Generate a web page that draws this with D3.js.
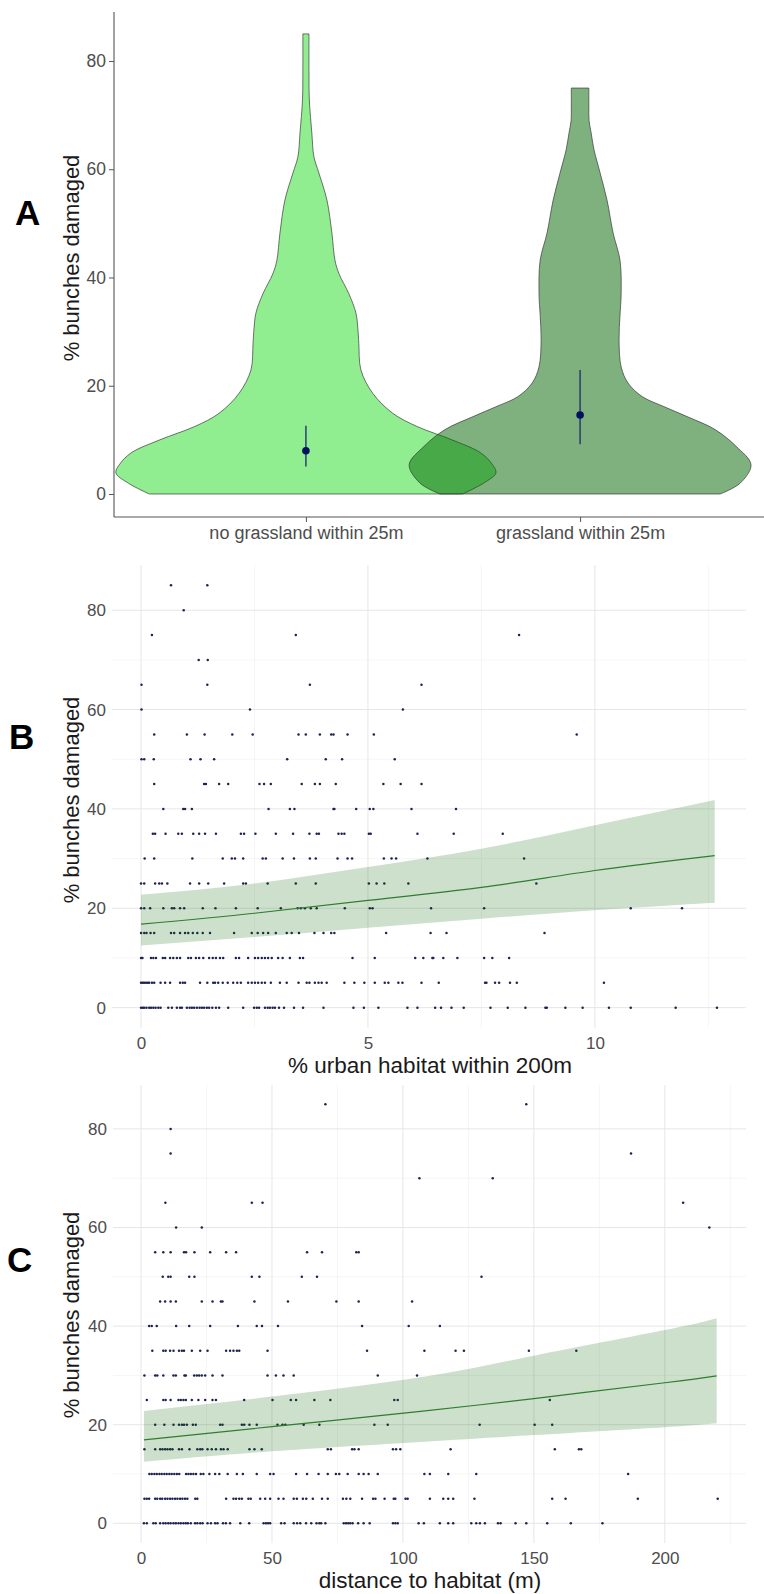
<!DOCTYPE html>
<html><head><meta charset="utf-8">
<script src="https://cdn.jsdelivr.net/npm/d3@7"></script>
<style>html,body{margin:0;padding:0;background:#fff}svg{display:block}</style>
</head><body>
<script>
// ---------- Panel A data ----------
const violinCategories = ["no grassland within 25m", "grassland within 25m"];
const violin1Values  = [0, 2, 3.9, 5.5, 7.6, 10, 12.5, 14.9, 18.6, 22.9, 27.8, 30.5, 33.4, 37, 40.7, 43.2, 48.2, 54.3, 59.3, 62.3, 66.7, 72.8, 78, 85];
const violin1Density = [0.82, 0.93, 0.995, 0.975, 0.915, 0.765, 0.58, 0.455, 0.35, 0.288, 0.277, 0.272, 0.262, 0.225, 0.173, 0.152, 0.136, 0.11, 0.068, 0.042, 0.031, 0.018, 0.016, 0.016];
const violin2Values  = [0, 2, 5.4, 8.8, 11.9, 14.3, 16.2, 18, 20.5, 23.5, 28.4, 33, 37, 43.2, 48.2, 54.3, 59.3, 63.6, 66.7, 69, 71.5, 75];
const violin2Density = [0.733, 0.838, 0.895, 0.817, 0.707, 0.56, 0.435, 0.325, 0.251, 0.215, 0.204, 0.209, 0.215, 0.209, 0.173, 0.141, 0.105, 0.073, 0.058, 0.047, 0.046, 0.046];
const meanValues = [8.0, 14.6];
const ciLow  = [5.1, 9.2];
const ciHigh = [12.6, 22.9];
const yTicksA = [0, 20, 40, 60, 80];

// ---------- Panel B data ----------
const damageLevels = [85, 80, 75, 70, 65, 60, 55, 50, 45, 40, 35, 30, 25, 20, 15, 10, 5, 0];
const urbanRows = [
 [0.66, 1.46],
 [0.94],
 [0.24, 3.41, 8.33],
 [1.27, 1.47],
 [0.01, 1.46, 3.72, 6.18],
 [0.01, 2.4, 5.77],
 [0.29, 1.01, 1.4, 2.01, 2.46, 3.47, 3.63, 3.94, 4.19, 4.24, 4.55, 5.13, 9.6],
 [0.01, 0.07, 0.28, 1.09, 1.31, 1.61, 3.22, 4.07, 4.43, 5.59],
 [0.29, 1.39, 1.43, 1.72, 1.92, 2.61, 2.71, 2.86, 3.54, 3.83, 3.94, 4.29, 5.34, 5.72, 6.18],
 [0.49, 0.93, 0.97, 1.12, 2.81, 3.28, 3.38, 4.24, 4.26, 4.74, 5.04, 5.12, 5.96, 6.94],
 [0.26, 0.31, 0.54, 0.82, 0.9, 1.15, 1.28, 1.41, 1.65, 2.2, 2.27, 2.52, 2.97, 3.35, 3.71, 3.87, 3.92, 4.35, 4.42, 4.48, 5.02, 5.06, 6.09, 6.89, 7.97],
 [0.08, 0.29, 1.13, 1.8, 2.0, 2.07, 2.25, 2.68, 2.75, 3.12, 3.37, 3.72, 3.85, 4.33, 4.55, 4.65, 5.35, 5.52, 5.62, 6.31, 8.44],
 [0.0, 0.07, 0.31, 0.4, 0.46, 0.58, 1.08, 1.28, 1.48, 1.83, 2.25, 2.31, 2.79, 3.41, 3.85, 5.02, 5.19, 5.36, 5.89, 8.71],
 [0.0, 0.07, 0.2, 0.49, 0.68, 0.73, 0.86, 0.95, 1.36, 1.64, 2.09, 2.57, 3.08, 3.45, 3.52, 3.61, 3.74, 3.87, 4.49, 5.04, 5.1, 6.39, 7.56, 10.79, 11.92],
 [0.0, 0.07, 0.12, 0.21, 0.29, 0.66, 0.73, 0.86, 0.97, 1.04, 1.14, 1.24, 1.36, 1.52, 2.05, 2.44, 2.57, 2.69, 2.8, 2.97, 3.21, 3.32, 3.48, 3.82, 4.02, 4.19, 4.26, 5.4, 6.38, 6.73, 8.89],
 [0.0, 0.03, 0.22, 0.27, 0.33, 0.48, 0.53, 0.64, 0.71, 0.79, 0.86, 1.04, 1.1, 1.21, 1.28, 1.37, 1.5, 1.58, 1.65, 1.74, 1.81, 2.09, 2.16, 2.36, 2.51, 2.58, 2.66, 2.73, 2.8, 2.88, 3.02, 3.12, 3.28, 3.5, 3.57, 4.66, 5.15, 6.04, 6.22, 6.42, 6.44, 6.66, 6.97, 7.56, 7.74, 8.11],
 [0, 0.04, 0.07, 0.11, 0.15, 0.18, 0.24, 0.29, 0.43, 0.53, 0.64, 0.86, 0.92, 0.97, 1.3, 1.46, 1.59, 1.63, 1.7, 1.8, 1.91, 2.03, 2.12, 2.2, 2.36, 2.44, 2.51, 2.58, 2.66, 2.73, 2.86, 3.06, 3.21, 3.47, 3.65, 3.71, 3.83, 3.91, 3.98, 4.09, 4.48, 4.7, 4.92, 5.15, 5.37, 5.45, 5.67, 5.76, 6.18, 6.56, 7.58, 7.61, 7.8, 7.89, 8.13, 8.28, 10.2],
 [0, 0.04, 0.07, 0.12, 0.18, 0.22, 0.27, 0.32, 0.38, 0.43, 0.6, 0.68, 0.79, 0.86, 0.9, 1.01, 1.07, 1.12, 1.17, 1.23, 1.29, 1.34, 1.39, 1.45, 1.5, 1.57, 1.65, 1.72, 1.92, 2.25, 2.49, 2.55, 2.6, 2.73, 2.79, 2.84, 2.9, 2.95, 3.04, 3.15, 3.37, 3.57, 4.02, 4.68, 4.91, 5.23, 5.87, 6.09, 6.48, 6.61, 6.84, 7.11, 7.7, 8.08, 8.47, 8.91, 8.94, 9.35, 9.73, 10.31, 10.79, 11.78, 12.69]
];
const urbanFitX  = [0, 2.5, 5, 7.5, 10, 12.64];
const urbanFit   = [16.8, 19.0, 21.6, 24.2, 27.6, 30.6];
const urbanLower = [12.5, 14.2, 16.1, 17.9, 19.6, 21.1];
const urbanUpper = [22.7, 25.0, 28.3, 32.0, 36.7, 41.8];
const urbanTicks = [0, 5, 10];

// ---------- Panel C data ----------
const distanceRows = [
 [70.4, 147.1],
 [11.3],
 [11.3, 187.1],
 [106.3, 134.3],
 [9.3, 42.3, 46.4, 207],
 [13.4, 23.2, 217],
 [5.4, 8.5, 11.3, 16.4, 17.2, 20.4, 26.4, 32.5, 36.3, 63.4, 69.1, 82.2, 83.1],
 [8.3, 10.4, 11.3, 18.4, 20.4, 42.3, 45.2, 61.4, 67.2, 130],
 [7.3, 9.2, 11.3, 13.3, 23.2, 27.3, 30.5, 31.1, 43.3, 56.1, 74.6, 83.1, 103.5],
 [3.1, 4.1, 6.0, 13.4, 18.4, 26.4, 37, 44.2, 46.2, 52.3, 84.4, 102.2, 114.1],
 [4.3, 8.5, 9.4, 11.1, 12.4, 14.5, 15.6, 16.4, 19.4, 22.6, 25.4, 32.5, 34, 35.3, 36.6, 37.5, 48.3, 86.3, 108.2, 120.1, 123.3, 148.1, 166.2],
 [1.3, 5.4, 6.2, 8.5, 12.4, 13.3, 16.6, 17.1, 20.3, 21.3, 22.2, 23.2, 24.5, 27.3, 31.1, 48.3, 51.5, 54.4, 58.3, 90.4, 105.4],
 [2.2, 8.5, 9.4, 11.3, 14.3, 15.2, 16.2, 17.1, 19.4, 21.9, 24.5, 27.3, 28.6, 39.4, 50.2, 57.2, 59.2, 66.2, 72.3, 96.7, 98, 156.1],
 [5.4, 8.9, 12.4, 14.5, 15.6, 16.4, 17.5, 19.8, 20.9, 30.2, 31.1, 38.5, 39.4, 41.4, 44.2, 52.1, 54.0, 55.1, 62.1, 68.1, 89.1, 94.2, 129.3, 150.3, 157],
 [1.3, 5.4, 7.3, 8.2, 9.2, 10.1, 11.1, 12, 14.5, 15.6, 18.5, 21.5, 22.6, 23.4, 25.4, 27, 28.6, 30.5, 31.5, 33.1, 41.4, 43.3, 46.1, 71.3, 72.5, 80.6, 81.5, 83.1, 96.2, 97.4, 99, 118.2, 158, 167.2, 168.1],
 [3.2, 4.1, 5.1, 6.0, 7.0, 7.9, 8.9, 9.8, 10.8, 11.7, 12.7, 13.7, 14.6, 17.2, 18.1, 19, 20, 21, 22.8, 23.8, 26.1, 28.3, 29.9, 33.1, 36.6, 38.9, 44.2, 49.3, 50.6, 59.2, 63.4, 67.8, 71.3, 74.4, 75.7, 78.9, 83.1, 85, 86.9, 90.4, 108.2, 110.3, 117.3, 128, 186],
 [1.3, 2.2, 3.1, 5.4, 6.2, 7.3, 8.1, 9.2, 10.1, 11.1, 12, 13, 13.9, 14.9, 15.8, 16.8, 17.7, 20.7, 21.5, 32.5, 35.3, 36.3, 37.5, 38.5, 41, 41.9, 45.5, 47.4, 49.3, 52.5, 54.4, 58.3, 59.5, 61.8, 63.1, 65.6, 69.1, 71.3, 77.1, 78.4, 79.9, 84.4, 88.6, 89.5, 93, 96.5, 97.1, 101, 101.8, 110.3, 115.4, 117.3, 119.2, 127.3, 157, 162.1, 189.7, 220.2],
 [1.1, 2.2, 4.7, 5.6, 7.3, 8.5, 9.4, 10.4, 11.3, 12.4, 13.3, 14.3, 15.2, 16.2, 17.1, 17.9, 19.0, 20.6, 21.5, 22.6, 23.5, 25.4, 26.7, 28.3, 29.2, 31.3, 32.4, 34.0, 37.9, 41.3, 46.8, 47.7, 48.5, 49.3, 53.5, 54.8, 58.3, 59.6, 60.8, 63.0, 65.0, 67.0, 68.1, 68.8, 70.4, 77.4, 78.3, 79.1, 79.9, 80.8, 82.9, 85.0, 87.3, 96.2, 97.1, 98.0, 106, 108, 114.1, 117.3, 119.2, 126.1, 128, 129.4, 131.3, 136.3, 137.3, 143, 147.1, 155.1, 164.1, 176.2]
];
const distFitX  = [1.1, 50, 106.7, 150, 200, 219.8];
const distFit   = [16.9, 19.6, 22.7, 25.3, 28.5, 29.9];
const distLower = [12.5, 14.6, 16.5, 17.9, 19.5, 20.3];
const distUpper = [22.8, 25.7, 29.6, 34.0, 39.2, 41.6];
const distTicks = [0, 50, 100, 150, 200];
const yTicksBC = [0, 20, 40, 60, 80];

// ---------- drawing ----------
const W = 764, H = 1594;
const FONT = "'Liberation Sans', Arial, Helvetica, sans-serif";
const svg = d3.select("body").append("svg").attr("width", W).attr("height", H)
  .attr("font-family", FONT);
svg.append("rect").attr("width", W).attr("height", H).attr("fill", "#fff");

const tickCol = "#4d4d4d";

// ===== Panel A =====
const xA = d3.scalePoint().domain(violinCategories).range([114, 772]).padding(0.7);
const yA = d3.scaleLinear().domain([-4.25, 89.05]).range([517, 12]);
const wA = d3.scaleLinear().domain([0, 1]).range([0, 191]);
const gA = svg.append("g");

function violin(cat, vals, dens, fill, op) {
  const cx = xA(cat);
  const pts = vals.map((v, i) => ({v, d: dens[i]}));
  const area = d3.area()
    .y(d => yA(d.v))
    .x0(d => cx - wA(d.d))
    .x1(d => cx + wA(d.d))
    .curve(d3.curveCatmullRom.alpha(0.5));
  gA.append("path").attr("d", area(pts))
    .attr("fill", fill).attr("fill-opacity", op)
    .attr("stroke", "#3a3a3a").attr("stroke-width", 0.7);
}
violin(violinCategories[0], violin1Values, violin1Density, "#90EE90", 1);
violin(violinCategories[1], violin2Values, violin2Density, "#006400", 0.5);

// mean + CI
violinCategories.forEach((c, i) => {
  gA.append("line").attr("x1", xA(c)).attr("x2", xA(c))
    .attr("y1", yA(ciLow[i])).attr("y2", yA(ciHigh[i]))
    .attr("stroke", "#23336e").attr("stroke-width", 1.4);
  gA.append("circle").attr("cx", xA(c)).attr("cy", yA(meanValues[i])).attr("r", 3.8)
    .attr("fill", "#001060");
});

// axes A
const axAy = d3.axisLeft(yA).tickValues(yTicksA).tickSize(5).tickPadding(3);
const gAy = gA.append("g").attr("transform", "translate(114,0)").call(axAy);
const axAx = d3.axisBottom(xA).tickSize(5).tickPadding(4);
const gAx = gA.append("g").attr("transform", "translate(0,517)").call(axAx);
[gAy, gAx].forEach(g => {
  g.select(".domain").attr("stroke", "#555").attr("stroke-width", 1.1);
  g.selectAll(".tick line").attr("stroke", "#555");
  g.selectAll(".tick text").attr("fill", tickCol).attr("font-family", FONT);
});
gAy.select(".domain").attr("d", "M0,12V517");
gAx.select(".domain").attr("d", "M114,0H764");
gAy.selectAll(".tick text").attr("font-size", 17.5);
gAx.selectAll(".tick text").attr("font-size", 18);

gA.append("text").attr("transform", "translate(79,258) rotate(-90)")
  .attr("text-anchor", "middle").attr("font-size", 22).attr("fill", "#1a1a1a")
  .text("% bunches damaged");
gA.append("text").attr("x", 15).attr("y", 225).attr("font-size", 35).attr("font-weight", "bold")
  .attr("fill", "#000").text("A");

// ===== scatter panels =====
function scatterPanel(opt) {
  const g = svg.append("g");
  const x = d3.scaleLinear().domain(opt.xDom).range([opt.left, opt.right]);
  const y = d3.scaleLinear().domain(opt.yDom).range([opt.bottom, opt.top]);
  // grid
  opt.minorX.forEach(v => g.append("line").attr("x1", x(v)).attr("x2", x(v))
    .attr("y1", opt.top).attr("y2", opt.bottom).attr("stroke", "#f2f2f2").attr("stroke-width", 0.8));
  [10, 30, 50, 70].forEach(v => g.append("line").attr("y1", y(v)).attr("y2", y(v))
    .attr("x1", opt.left).attr("x2", opt.right).attr("stroke", "#f2f2f2").attr("stroke-width", 0.8));
  opt.xTicks.forEach(v => g.append("line").attr("x1", x(v)).attr("x2", x(v))
    .attr("y1", opt.top).attr("y2", opt.bottom).attr("stroke", "#e6e6e6").attr("stroke-width", 1));
  yTicksBC.forEach(v => g.append("line").attr("y1", y(v)).attr("y2", y(v))
    .attr("x1", opt.left).attr("x2", opt.right).attr("stroke", "#e6e6e6").attr("stroke-width", 1));

  // points
  const pts = [];
  opt.rows.forEach((xs, i) => xs.forEach(v => pts.push([v, damageLevels[i]])));
  g.selectAll("circle.p").data(pts).enter().append("circle")
    .attr("cx", d => x(d[0])).attr("cy", d => y(d[1])).attr("r", 1.25)
    .attr("fill", "#1d2250");

  // ribbon + fit
  const rib = opt.fitX.map((v, i) => ({x: v, lo: opt.lo[i], hi: opt.hi[i], f: opt.fit[i]}));
  g.append("path").attr("d", d3.area().x(d => x(d.x)).y0(d => y(d.lo)).y1(d => y(d.hi))
      .curve(d3.curveNatural)(rib))
    .attr("fill", "#006400").attr("fill-opacity", 0.2);
  g.append("path").attr("d", d3.line().x(d => x(d.x)).y(d => y(d.f)).curve(d3.curveNatural)(rib))
    .attr("fill", "none").attr("stroke", "#2f7d2f").attr("stroke-width", 1.2);

  // tick labels
  const ay = d3.axisLeft(y).tickValues(yTicksBC).tickSize(0).tickPadding(0);
  const gy = g.append("g").attr("transform", `translate(${opt.left - 6},0)`).call(ay);
  const ax = d3.axisBottom(x).tickValues(opt.xTicks).tickSize(0).tickPadding(0).tickFormat(d3.format("d"));
  const gx = g.append("g").attr("transform", `translate(0,${opt.bottom + 9})`).call(ax);
  [gy, gx].forEach(a => {
    a.select(".domain").remove();
    a.selectAll(".tick text").attr("fill", tickCol).attr("font-size", 17).attr("font-family", FONT);
  });
  gx.selectAll(".tick text").attr("dy", "0.71em");

  g.append("text").attr("x", 430).attr("y", opt.titleY).attr("text-anchor", "middle")
    .attr("font-size", 22.5).attr("fill", "#1a1a1a").text(opt.title);
  g.append("text").attr("transform", `translate(79,${opt.yTitleC}) rotate(-90)`)
    .attr("text-anchor", "middle").attr("font-size", 22).attr("fill", "#1a1a1a")
    .text("% bunches damaged");
  g.append("text").attr("x", opt.letterX).attr("y", opt.letterY).attr("font-size", 35)
    .attr("font-weight", "bold").attr("fill", "#000").text(opt.letter);
}

scatterPanel({
  xDom: [-0.64, 13.33], yDom: [-4.1, 89.1], left: 112, right: 746, top: 565, bottom: 1028,
  xTicks: urbanTicks, minorX: [2.5, 7.5, 12.5], rows: urbanRows,
  fitX: urbanFitX, fit: urbanFit, lo: urbanLower, hi: urbanUpper,
  title: "% urban habitat within 200m", titleY: 1073, yTitleC: 800, letter: "B", letterX: 9, letterY: 749
});
scatterPanel({
  xDom: [-10.7, 231], yDom: [-4, 88.9], left: 113, right: 746, top: 1085, bottom: 1543,
  xTicks: distTicks, minorX: [25, 75, 125, 175, 225], rows: distanceRows,
  fitX: distFitX, fit: distFit, lo: distLower, hi: distUpper,
  title: "distance to habitat (m)", titleY: 1588, yTitleC: 1315, letter: "C", letterX: 7, letterY: 1272
});
</script>
</body></html>
